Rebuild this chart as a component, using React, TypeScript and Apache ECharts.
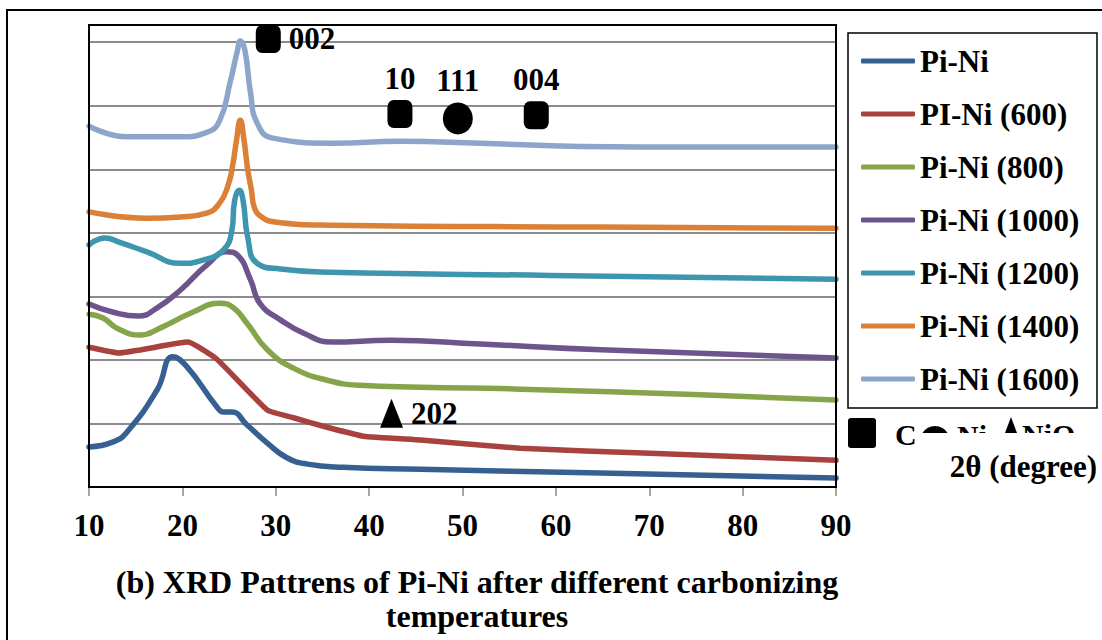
import React, { useEffect, useRef } from "react";
import * as echarts from "echarts";

// ---- data ----
const xTicks = [10, 20, 30, 40, 50, 60, 70, 80, 90];
const seriesNames = [
  "Pi-Ni",
  "PI-Ni (600)",
  "Pi-Ni (800)",
  "Pi-Ni (1000)",
  "Pi-Ni (1200)",
  "Pi-Ni (1400)",
  "Pi-Ni (1600)",
];
const seriesColors = ["#376092", "#A8423F", "#86A44A", "#6E548D", "#3D96AE", "#DA8137", "#8EA5CB"];

const piNi = [[10, 0.63], [12.6, 0.71], [14.1, 0.87], [17.3, 1.53], [19.0, 2.05], [20.5, 1.89], [23.7, 1.26], [24.4, 1.18], [25.3, 1.18], [26.9, 0.98], [29.1, 0.69], [31.2, 0.46], [33.4, 0.36], [37.2, 0.31], [45.5, 0.28], [64.8, 0.22], [90, 0.14]];
const piNi600 = [[10, 2.2], [13.2, 2.11], [20.6, 2.28], [23.7, 2.01], [29.1, 1.21], [31.9, 1.09], [35.5, 0.94], [39.4, 0.8], [45.5, 0.74], [56.2, 0.61], [70.1, 0.53], [90, 0.42]];
const piNi800 = [[10, 2.72], [11.5, 2.66], [13.0, 2.5], [15.5, 2.39], [17.6, 2.5], [21.1, 2.75], [24.0, 2.89], [25.4, 2.83], [26.9, 2.58], [29.1, 2.16], [31.9, 1.87], [35.5, 1.68], [39.0, 1.6], [45.5, 1.57], [56.2, 1.54], [75.5, 1.45], [90, 1.37]];
const piNi1000 = [[10, 2.88], [12.6, 2.75], [15.3, 2.69], [17.3, 2.82], [19.8, 3.1], [22.6, 3.49], [24.8, 3.7], [25.9, 3.65], [27.3, 3.26], [28.3, 2.89], [30.5, 2.63], [33.0, 2.42], [36.0, 2.28], [42.3, 2.31], [51.9, 2.25], [64.8, 2.16], [90, 2.03]];
const piNi1200 = [[10, 3.81], [11.7, 3.92], [13.3, 3.85], [16.2, 3.7], [19.8, 3.52], [22.2, 3.57], [24.4, 3.73], [25.3, 4.04], [25.6, 4.51], [26.1, 4.67], [26.5, 4.51], [27.0, 3.93], [28.0, 3.52], [30.5, 3.43], [35.8, 3.38], [59.4, 3.33], [90, 3.27]];
const piNi1400 = [[10, 4.33], [16.2, 4.23], [19.8, 4.25], [22.6, 4.31], [24.0, 4.47], [24.9, 4.75], [25.4, 5.07], [25.8, 5.46], [26.2, 5.77], [26.6, 5.46], [27.0, 4.99], [27.4, 4.67], [27.7, 4.4], [28.5, 4.25], [29.9, 4.17], [35.8, 4.12], [64.8, 4.09], [90, 4.07]];
const piNi1600 = [[10, 5.68], [14.1, 5.51], [19.8, 5.51], [22.6, 5.58], [24.0, 5.77], [25.1, 6.36], [25.9, 6.87], [26.2, 7.02], [26.7, 6.87], [27.3, 6.2], [28.0, 5.73], [29.7, 5.49], [36.2, 5.41], [43.3, 5.44], [51.9, 5.41], [62.6, 5.36], [75.5, 5.35], [90, 5.35]];
const seriesData = [piNi, piNi600, piNi800, piNi1000, piNi1200, piNi1400, piNi1600];
const seriesSmooth = [0.5, 0.12, 0.5, 0.5, 0.5, 0.5, 0.5];

// peak annotations
const peakLabels = ["002", "10", "111", "004", "202"];
const peakX = [29.2, 43.3, 49.5, 57.9, 42.4];
const peakY = [7.05, 5.87, 5.8, 5.85, 1.16];
const peakShapes = ["square", "square", "circle", "square", "triangle"];
const peakLabelPos = ["right", "top", "top", "top", "right"];

const FONT = "'Liberation Serif', 'Times New Roman', serif";

export default function App() {
  const ref = useRef<HTMLDivElement>(null);
  useEffect(() => {
    if (!ref.current) return;
    const chart = echarts.init(ref.current, undefined, { renderer: "svg" });

    const markData = peakLabels.map((lab, i) => {
      const shape = peakShapes[i];
      const symbol = shape === "circle" ? "circle" : shape === "triangle" ? "triangle" : "roundRect";
      const size = shape === "circle" ? [30, 32] : shape === "triangle" ? [23, 29] : [25, 28];
      const pos = peakLabelPos[i];
      return {
        name: lab,
        coord: [peakX[i], peakY[i]],
        symbol,
        symbolSize: size,
        itemStyle: { color: "#000" },
        label: {
          show: true,
          formatter: lab,
          position: pos,
          distance: pos === "top" ? 6 : 8,
          color: "#000",
          fontSize: 31,
          fontWeight: "bold",
          fontFamily: FONT,
        },
      };
    });

    const series: any[] = seriesNames.map((name, i) => ({
      name,
      type: "line",
      data: seriesData[i],
      smooth: seriesSmooth[i],
      symbol: "none",
      showSymbol: false,
      lineStyle: { color: seriesColors[i], width: 5.5, cap: "round", join: "round" },
      itemStyle: { color: seriesColors[i] },
      z: 2,
    }));
    series[6].markPoint = { silent: true, data: markData, z: 5 };

    const txt = (text: string, x: number, y: number, align = "left", size = 30) => ({
      type: "text",
      z: 50,
      style: {
        text,
        x,
        y,
        align,
        verticalAlign: "middle",
        fill: "#000",
        font: `bold ${size}px ${FONT}`,
      },
    });

    chart.setOption({
      animation: false,
      backgroundColor: "#fff",
      title: {
        text: "(b) XRD Pattrens of Pi-Ni after different carbonizing\ntemperatures",
        left: 472,
        top: 560,
        textAlign: "center",
        textStyle: { fontSize: 32, fontWeight: "bold", fontFamily: FONT, color: "#000", lineHeight: 34 },
      },
      legend: {
        orient: "vertical",
        left: 861,
        top: 43,
        padding: 0,
        icon: "roundRect",
        itemWidth: 54,
        itemHeight: 5,
        itemGap: 17,
        data: seriesNames,
        textStyle: { fontSize: 31, fontWeight: "bold", fontFamily: FONT, color: "#000", lineHeight: 36 },
      },
      grid: { left: 89, top: 25, width: 747, height: 462, containLabel: false },
      xAxis: {
        type: "value",
        min: xTicks[0],
        max: xTicks[xTicks.length - 1],
        interval: 10,
        axisLine: { show: true, lineStyle: { color: "#000", width: 2 } },
        axisTick: { show: true, length: 9, lineStyle: { color: "#888", width: 1.5 } },
        axisLabel: { fontSize: 31, fontWeight: "bold", fontFamily: FONT, color: "#000", margin: 23 },
        splitLine: { show: false },
      },
      yAxis: {
        type: "value",
        min: 0,
        max: 7.27,
        interval: 1,
        axisLine: { show: false },
        axisTick: { show: false },
        axisLabel: { show: false },
        splitLine: { show: true, lineStyle: { color: "#8c8c8c", width: 2 } },
      },
      series,
      graphic: [
        { type: "rect", z: 40, shape: { x: 7, y: 10, width: 1200, height: 700 }, style: { fill: "none", stroke: "#000", lineWidth: 2 } },
        { type: "rect", z: 40, shape: { x: 89, y: 25, width: 747, height: 462 }, style: { fill: "none", stroke: "#000", lineWidth: 2 } },
        { type: "rect", z: 40, shape: { x: 848, y: 33, width: 249, height: 375 }, style: { fill: "none", stroke: "#000", lineWidth: 1.5 } },
        { type: "rect", z: 50, shape: { x: 848, y: 418, width: 28, height: 30, r: 3 }, style: { fill: "#000" } },
        txt("C", 895, 434),
        { type: "circle", z: 50, shape: { cx: 935, cy: 441, r: 15 }, style: { fill: "#000" } },
        txt("Ni", 957, 435),
        { type: "polygon", z: 50, shape: { points: [[1011, 417], [1023, 449], [999, 449]] }, style: { fill: "#000" } },
        txt("NiO", 1022, 434),
        { type: "rect", z: 60, shape: { x: 919, y: 433, width: 183, height: 24 }, style: { fill: "#fff" } },
        { ...txt("2θ (degree)", 1097, 466, "right", 31), z: 70 },
      ],
    });
    return () => chart.dispose();
  }, []);
  return <div ref={ref} style={{ position: "absolute", left: 0, top: 0, width: 1102, height: 640 }} />;
}
